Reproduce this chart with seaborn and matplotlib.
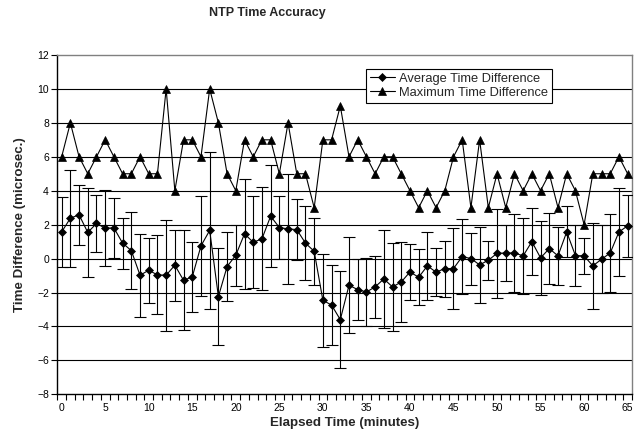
import matplotlib
matplotlib.use("Agg")
import matplotlib.pyplot as plt
import seaborn as sns
import numpy as np
import pandas as pd
from matplotlib.ticker import FixedLocator

minutes = list(range(66))
avg_diff = [1.57, 2.38, 2.58, 1.54, 2.07, 1.79, 1.81, 0.91, 0.47, -0.98,
            -0.69, -0.96, -0.98, -0.39, -1.28, -1.08, 0.75, 1.66, -2.24, -0.47,
            0.20, 1.46, 0.96, 1.16, 2.50, 1.83, 1.75, 1.71, 0.91, 0.43,
            -2.46, -2.74, -3.60, -1.57, -1.83, -1.97, -1.67, -1.20, -1.67, -1.38,
            -0.79, -1.10, -0.43, -0.80, -0.59, -0.59, 0.12, 0.00, -0.37, -0.10,
            0.31, 0.33, 0.33, 0.16, 1.00, 0.04, 0.59, 0.16, 1.57, 0.18,
            0.16, -0.43, -0.04, 0.33, 1.57, 1.93]
avg_err = [2.06, 2.85, 1.76, 2.63, 1.67, 2.24, 1.78, 1.50, 2.29, 2.45,
           1.93, 2.33, 3.27, 2.10, 2.95, 2.08, 2.95, 4.63, 2.87, 2.03,
           1.79, 3.25, 2.72, 3.04, 3.00, 1.85, 3.22, 1.82, 2.18, 1.98,
           2.73, 2.37, 2.87, 2.83, 1.81, 2.00, 1.84, 2.91, 2.60, 2.37,
           1.63, 1.66, 2.00, 1.40, 1.65, 2.40, 2.20, 1.53, 2.23, 1.14,
           2.62, 1.65, 2.31, 2.22, 1.96, 2.18, 2.09, 1.73, 1.50, 1.80,
           1.07, 2.52, 2.00, 2.29, 2.57, 1.82]
max_diff = [6, 8, 6, 5, 6, 7, 6, 5, 5, 6,
            5, 5, 10, 4, 7, 7, 6, 10, 8, 5,
            4, 7, 6, 7, 7, 5, 8, 5, 5, 3,
            7, 7, 9, 6, 7, 6, 5, 6, 6, 5,
            4, 3, 4, 3, 4, 6, 7, 3, 7, 3,
            5, 3, 5, 4, 5, 4, 5, 3, 5, 4,
            2, 5, 5, 5, 6, 5]
series_names = ["Average Time Difference", "Maximum Time Difference"]
y_ticks = list(range(-8, 13, 2))
x_ticks = list(range(0, 66, 5))

sns.set_style("white")
plt.rcParams["font.family"] = ["Liberation Sans", "DejaVu Sans"]

W, H = 639, 438
fig = plt.figure(figsize=(W / 100, H / 100), dpi=100)
ax = fig.add_axes([57.3 / W, 1 - 394.3 / H, (632 - 57.3) / W, (394.3 - 55) / H])

df_avg = pd.DataFrame({"x": minutes, "y": avg_diff})
df_max = pd.DataFrame({"x": minutes, "y": max_diff})

ax.errorbar(minutes, avg_diff, yerr=avg_err, fmt="none", ecolor="black",
            elinewidth=0.8, capsize=4.3, capthick=0.8, zorder=3)
sns.lineplot(data=df_avg, x="x", y="y", ax=ax, color="black", lw=0.8,
             marker="D", markersize=3.8, markeredgecolor="black", markeredgewidth=0.5,
             label=series_names[0], zorder=4)
sns.lineplot(data=df_max, x="x", y="y", ax=ax, color="black", lw=0.8,
             marker="^", markersize=5.2, markeredgecolor="black", markeredgewidth=0.5,
             label=series_names[1], zorder=4)

ax.set_xlim(-0.5, 65.5)
ax.set_ylim(-8, 12)
ax.yaxis.set_major_locator(FixedLocator(y_ticks))
ax.xaxis.set_major_locator(FixedLocator(x_ticks))
ax.xaxis.set_minor_locator(FixedLocator(np.arange(-0.5, 66, 1.0)))
ax.tick_params(axis="x", which="major", length=0, labelsize=7.5, pad=6, colors="black")
ax.tick_params(axis="x", which="minor", length=4, width=0.8, direction="out", color="black", bottom=True)
ax.tick_params(axis="y", which="major", length=4, width=0.8, direction="out", labelsize=7.5, pad=2, colors="black", left=True)

for yv in y_ticks[1:-1]:
    ax.axhline(yv, color="black", lw=0.8, zorder=1)

ax.spines["left"].set_color("black")
ax.spines["bottom"].set_color("black")
ax.spines["top"].set_color("#808080")
ax.spines["right"].set_color("#808080")
for s in ax.spines.values():
    s.set_linewidth(1.0)

ax.set_xlabel("Elapsed Time (minutes)", fontsize=9.6, fontweight="bold", labelpad=3)
ax.set_ylabel("Time Difference (microsec.)", fontsize=9.6, fontweight="bold", labelpad=8)

fig.text(267 / W, 1 - 13 / H, "NTP Time Accuracy", ha="center", va="center",
         fontsize=9, fontweight="bold")

leg = ax.legend(loc="upper left", bbox_to_anchor=(365.7 / W, 1 - 69 / H),
                bbox_transform=fig.transFigure, fontsize=9.3, frameon=True,
                fancybox=False, framealpha=1, edgecolor="black", borderaxespad=0,
                handlelength=2.0, handletextpad=0.3, borderpad=0.3, labelspacing=0.15)
leg.get_frame().set_linewidth(0.8)

fig.savefig("out.png", dpi=100, facecolor="white")
